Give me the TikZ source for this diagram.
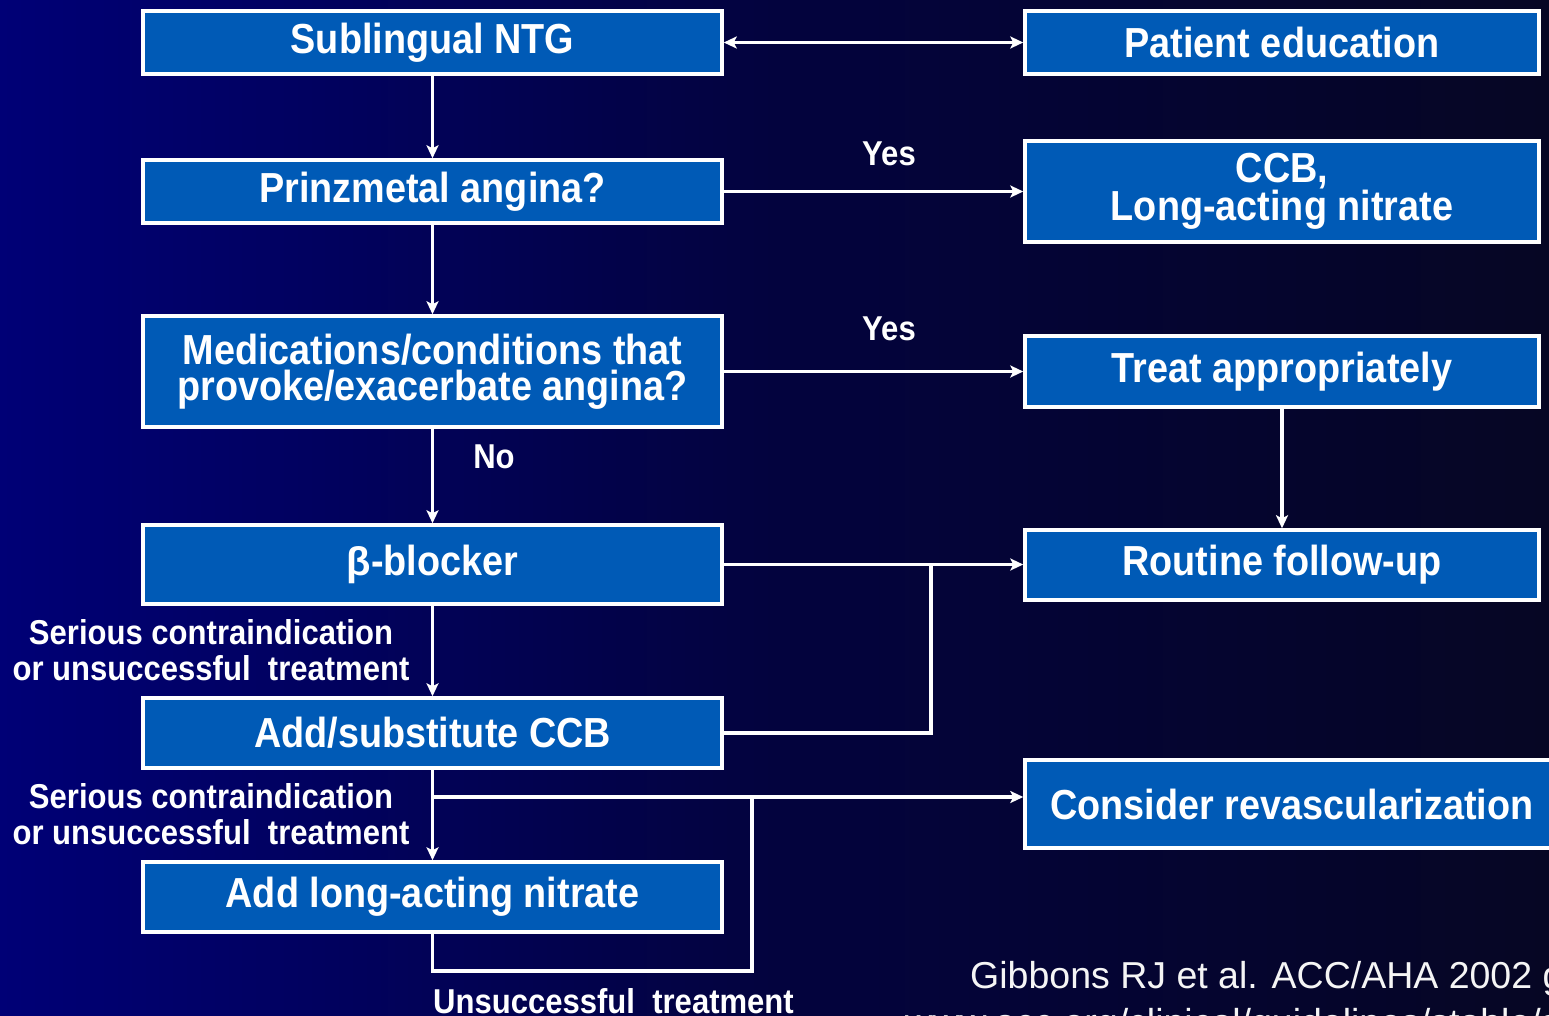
\documentclass[tikz,border=0pt]{standalone}
\usepackage{fontspec}
\setmainfont{Liberation Sans}
\newfontfamily\boxfont{Liberation Sans}[FakeStretch=0.9]
\newfontfamily\citefont{Liberation Sans}
\usetikzlibrary{arrows.meta}
\definecolor{bgA}{RGB}{0,0,118}
\definecolor{bgM}{RGB}{3,3,62}
\definecolor{bgB}{RGB}{6,6,36}
\definecolor{boxblue}{RGB}{0,90,182}
\tikzset{
  x=1pt, y=-1pt,
  flowbox/.style={draw=white, line width=3.5pt, fill=boxblue, text=white,
    font=\boxfont\bfseries\fontsize{42}{36}\selectfont, align=center, inner sep=0pt},
  conn/.style={draw=white, line width=3.2pt},
  arr/.style={conn, -{Stealth[length=13pt,width=12pt,inset=3pt]}},
  darr/.style={conn, {Stealth[length=13pt,width=12pt,inset=3pt]}-{Stealth[length=13pt,width=12pt,inset=3pt]}},
  lbl/.style={text=white, font=\boxfont\bfseries\fontsize{34.5}{36}\selectfont, align=center, inner sep=0pt},
  cite/.style={text=white!92!gray, font=\citefont\fontsize{37.5}{40}\selectfont, inner sep=0pt, anchor=base west}
}
\begin{document}
\begin{tikzpicture}
\useasboundingbox (0,0) rectangle (1549,1016);
\clip (0,0) rectangle (1549,1016);
\shade[left color=bgA, right color=bgB, middle color=bgM, shading angle=90] (0,0) rectangle (1549,1016);

% boxes
\node[flowbox, minimum width=579pt, minimum height=63pt] (sub) at (432.5,42.5) {Sublingual NTG};
\node[flowbox, minimum width=514pt, minimum height=63pt] (pat) at (1282,42.5) {Patient education};
\node[flowbox, minimum width=579pt, minimum height=63pt] (pri) at (432.5,191.5) {Prinzmetal angina?};
\node[flowbox, minimum width=514pt, minimum height=101pt] (ccb) at (1282,191.5) {CCB,\\Long-acting nitrate};
\node[flowbox, minimum width=579pt, minimum height=111pt] (med) at (432.5,371.5) {Medications/conditions that\\provoke/exacerbate angina?};
\node[flowbox, minimum width=514pt, minimum height=71pt] (tre) at (1282,371.5) {Treat appropriately};
\node[flowbox, minimum width=579pt, minimum height=79pt] (beta) at (432.5,564.5) {\citefont\bfseries\fontsize{40}{36}\selectfont β\boxfont\bfseries\fontsize{42}{36}\selectfont-blocker};
\node[flowbox, minimum width=514pt, minimum height=70pt] (rou) at (1282,565) {Routine follow-up};
\node[flowbox, minimum width=579pt, minimum height=70pt] (add) at (432.5,733) {Add/substitute CCB};
\node[flowbox, minimum width=534pt, minimum height=88pt] (con) at (1292,804) {Consider revascularization};
\node[flowbox, minimum width=579pt, minimum height=70pt] (lan) at (432.5,897) {Add long-acting nitrate};

% junction coordinates
\coordinate (j1) at (931,564.5);
\coordinate (b2) at (432.5,797);
\coordinate (j2) at (752,797);
\coordinate (lp) at (752,971);

% connectors
\draw[darr] (sub.east) -- (pat.west);
\draw[arr] (sub.south) -- (pri.north);
\draw[arr] (pri.east) -- (ccb.west);
\draw[arr] (pri.south) -- (med.north);
\draw[arr] (med.east) -- (tre.west);
\draw[arr] (med.south) -- (beta.north);
\draw[arr] (tre.south) -- (rou.north);
\draw[arr] (beta.east) -- (beta.east -| rou.west);
\draw[conn] (add.east) -| (j1);
\draw[arr] (beta.south) -- (add.north);
\draw[arr] (add.south) -- (lan.north);
\draw[arr] (b2) -- (b2 -| con.west);
\draw[conn] (lan.south) |- (lp) -- (j2);

% labels
\node[lbl] (yes1) at (889,154) {Yes};
\node[lbl] (yes2) at (889,329) {Yes};
\node[lbl] (no) at (494,457) {No};
\node[lbl] (sc1) at (211,650) {Serious contraindication\\or unsuccessful~ treatment};
\node[lbl] (sc2) at (211,814) {Serious contraindication\\or unsuccessful~ treatment};
\node[lbl, anchor=west] (uns) at (433,1001) {Unsuccessful~ treatment};

% citation
\node[cite] (c1) at (970,988) {Gibbons RJ et al. ACC/AHA 2002 guidelines};
\node[cite] (c2) at (905,1035) {www.acc.org/clinical/guidelines/stable/stable.pdf};
\end{tikzpicture}
\end{document}
